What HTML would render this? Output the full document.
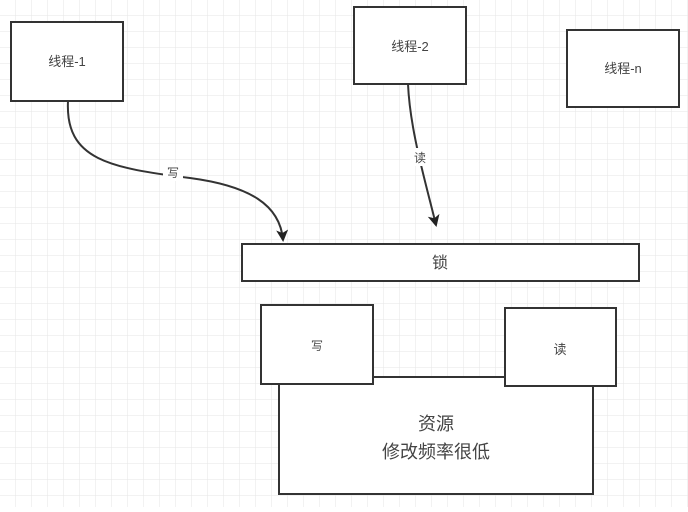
<!DOCTYPE html>
<html><head><meta charset="utf-8"><style>
body{margin:0;width:688px;height:507px;overflow:hidden;background:#fff;font-family:"Liberation Sans","Noto Sans CJK SC",sans-serif;}
</style></head><body>
<svg width="688" height="507" xmlns="http://www.w3.org/2000/svg">
<defs>
<pattern id="g" width="16" height="16" patternUnits="userSpaceOnUse" x="0" y="0">
<path d="M16 0V16M0 16H16" stroke="#e6e6e6" stroke-width="1" fill="none"/>
</pattern>
<marker id="a" markerWidth="14" markerHeight="14" refX="10" refY="6" orient="auto" markerUnits="userSpaceOnUse">
<path d="M0,0 L12,6 L0,12 L3,6Z" fill="#222"/>
</marker>
</defs>
<rect width="688" height="507" fill="url(#g)"/>
<g fill="#fff" stroke="#333" stroke-width="2">
<rect x="11" y="22" width="112" height="79"/>
<rect x="354" y="7" width="112" height="77"/>
<rect x="567" y="30" width="112" height="77"/>
<rect x="242" y="244" width="397" height="37"/>
<rect x="279" y="377" width="314" height="117"/>
<rect x="261" y="305" width="112" height="79"/>
<rect x="505" y="308" width="111" height="78"/>
</g>
<path d="M68,101 C65,160 110,168 190,178 C250,186 280,205 283,240" fill="none" stroke="#333" stroke-width="2" marker-end="url(#a)"/>
<path d="M408,84 C410,130 425,180 436,225" fill="none" stroke="#333" stroke-width="2" marker-end="url(#a)"/>
<rect x="163" y="163" width="20" height="18" fill="#fff"/>
<rect x="410" y="148" width="20" height="18" fill="#fff"/>
<g fill="#444" font-size="13" text-anchor="middle" font-family="Liberation Sans, Noto Sans CJK SC, sans-serif">
<text x="67" y="66">线程-1</text>
<text x="410" y="51">线程-2</text>
<text x="623" y="73">线程-n</text>
<text x="173" y="177" font-size="12">写</text>
<text x="420" y="162" font-size="12">读</text>
<text x="440" y="268" font-size="16">锁</text>
<text x="317" y="350" font-size="12">写</text>
<text x="560" y="354" font-size="13">读</text>
<text x="436" y="430" font-size="18">资源</text>
<text x="436" y="458" font-size="18">修改频率很低</text>
</g>
</svg>
</body></html>
